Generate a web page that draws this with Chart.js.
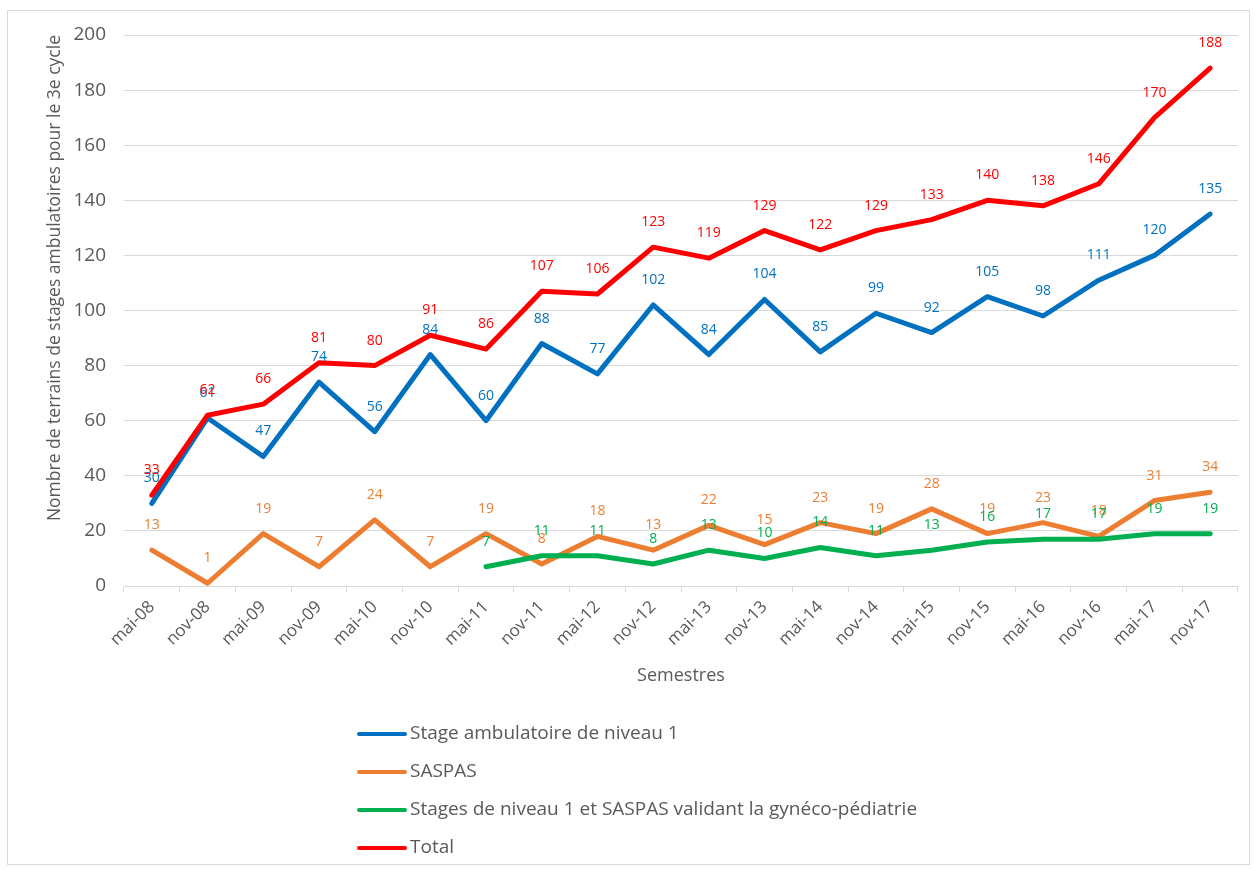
<!DOCTYPE html>
<html>
<head>
<meta charset="utf-8">
<script src="https://cdn.jsdelivr.net/npm/chart.js@4/dist/chart.umd.min.js"></script>
<style>
  body { margin: 0; background: #fff; }
  #wrap {
    position: absolute; left: 7px; top: 10px;
    width: 1243px; height: 855px;
    box-sizing: border-box; border: 1px solid #d9d9d9;
  }
</style>
</head>
<body>
<div id="wrap"><canvas id="chart" width="1241" height="853"></canvas></div>
<script>
// categories and series
const semestres = ['mai-08', 'nov-08', 'mai-09', 'nov-09', 'mai-10', 'nov-10', 'mai-11', 'nov-11', 'mai-12', 'nov-12',
                   'mai-13', 'nov-13', 'mai-14', 'nov-14', 'mai-15', 'nov-15', 'mai-16', 'nov-16', 'mai-17', 'nov-17'];
const niveau1 = [30, 61, 47, 74, 56, 84, 60, 88, 77, 102, 84, 104, 85, 99, 92, 105, 98, 111, 120, 135];
const saspas = [13, 1, 19, 7, 24, 7, 19, 8, 18, 13, 22, 15, 23, 19, 28, 19, 23, 18, 31, 34];
const gyneco = [null, null, null, null, null, null, 7, 11, 11, 8, 13, 10, 14, 11, 13, 16, 17, 17, 19, 19];
const total = [33, 62, 66, 81, 80, 91, 86, 107, 106, 123, 119, 129, 122, 129, 133, 140, 138, 146, 170, 188];
const yTicks = [0, 20, 40, 60, 80, 100, 120, 140, 160, 180, 200];

const FONT = '"Open Sans", "Liberation Sans", sans-serif';
const GREY = '#595959';

function line(label, data, color, order) {
    return {
        label: label,
        data: data,
        borderColor: color,
        backgroundColor: color,
        borderWidth: 5,
        pointRadius: 0,
        tension: 0,
        borderCapStyle: 'round',
        borderJoinStyle: 'round',
        order: order
    };
}

// value labels above each point
const valueLabels = {
    id: 'valueLabels',
    afterDatasetsDraw(chart) {
        const ctx = chart.ctx;
        ctx.save();
        ctx.font = '14px ' + FONT;
        ctx.textAlign = 'center';
        ctx.textBaseline = 'middle';
        chart.data.datasets.forEach((ds, i) => {
            const meta = chart.getDatasetMeta(i);
            ctx.fillStyle = ds.borderColor;
            meta.data.forEach((pt, j) => {
                if (ds.data[j] === null) return;
                ctx.fillText(ds.data[j], pt.x, pt.y - 25);
            });
        });
        ctx.restore();
    }
};

// vertical legend under the x axis
const listLegend = {
    id: 'listLegend',
    afterDraw(chart) {
        const ctx = chart.ctx;
        ctx.save();
        ctx.font = '19px ' + FONT;
        ctx.textBaseline = 'middle';
        ctx.lineCap = 'round';
        ctx.lineWidth = 4;
        chart.data.datasets.forEach((ds, i) => {
            const y = 723 + i * 38;
            ctx.strokeStyle = ds.borderColor;
            ctx.beginPath();
            ctx.moveTo(351, y);
            ctx.lineTo(397, y);
            ctx.stroke();
            ctx.fillStyle = GREY;
            ctx.fillText(ds.label, 402, y);
        });
        ctx.restore();
    }
};

new Chart(document.getElementById('chart'), {
    type: 'line',
    data: {
        labels: semestres,
        datasets: [
            line('Stage ambulatoire de niveau 1', niveau1, '#0070C0', 4),
            line('SASPAS', saspas, '#ED7D31', 3),
            line('Stages de niveau 1 et SASPAS validant la gynéco-pédiatrie', gyneco, '#00B050', 2),
            line('Total', total, '#FF0000', 1)
        ]
    },
    options: {
        responsive: false,
        animation: false,
        devicePixelRatio: 1,
        layout: { padding: { left: 34, top: 24, right: 11, bottom: 174 } },
        plugins: {
            legend: { display: false },
            tooltip: { enabled: false }
        },
        scales: {
            x: {
                offset: true,
                grid: { offset: true, drawOnChartArea: false, drawTicks: true, tickLength: 6, color: '#d9d9d9' },
                border: { display: true, color: '#d9d9d9' },
                ticks: { color: GREY, font: { family: FONT, size: 17 }, minRotation: 45, maxRotation: 45, padding: 5, autoSkip: false },
                title: { display: true, text: 'Semestres', color: GREY, font: { family: FONT, size: 18 }, padding: { top: 4, bottom: 3 } },
                afterFit(scale) {
                    scale.height = 104;
                    scale.paddingLeft = 0;
                    scale.paddingRight = 0;
                }
            },
            y: {
                min: 0,
                max: 200,
                afterBuildTicks(scale) { scale.ticks = yTicks.map(v => ({ value: v })); },
                grid: { color: '#d9d9d9', drawTicks: false },
                border: { display: false },
                ticks: { color: GREY, font: { family: FONT, size: 19 }, padding: 18 },
                title: { display: true, align: 'end', text: 'Nombre de terrains de stages ambulatoires pour le 3e cycle', color: GREY, font: { family: FONT, size: 17.5 }, padding: { top: 3, bottom: 4 } },
                afterFit(scale) {
                    scale.width = 82;
                    scale.paddingTop = 0;
                    scale.paddingBottom = 0;
                }
            }
        }
    },
    plugins: [valueLabels, listLegend]
});
</script>
</body>
</html>
